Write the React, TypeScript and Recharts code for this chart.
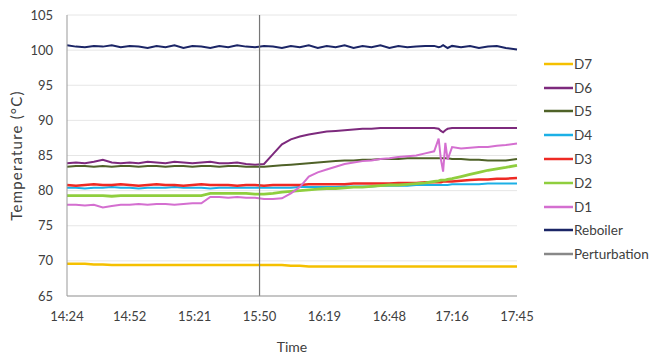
import React from 'react';
import {
  LineChart,
  Line,
  XAxis,
  YAxis,
  CartesianGrid
} from 'recharts';

// minutes after 14:24 (denser around the disturbance near 17:12)
const times = [
  0, 4, 8, 12, 16, 20, 24, 28, 32, 36,
  40, 44, 48, 52, 56, 60, 64, 68, 72, 76,
  80, 84, 88, 92, 96, 100, 104, 108, 112, 116,
  120, 124, 128, 132, 136, 140, 144, 148, 152, 156,
  160, 164, 166, 167, 168, 169, 170, 172, 176, 180, 184, 188, 192, 196, 201
];

const d7 = [
  69.6, 69.6, 69.6, 69.5, 69.5, 69.4, 69.4, 69.4, 69.4, 69.4,
  69.4, 69.4, 69.4, 69.4, 69.4, 69.4, 69.4, 69.4, 69.4, 69.4,
  69.4, 69.4, 69.4, 69.4, 69.4, 69.3, 69.3, 69.2, 69.2, 69.2,
  69.2, 69.2, 69.2, 69.2, 69.2, 69.2, 69.2, 69.2, 69.2, 69.2,
  69.2, 69.2, 69.2, 69.2, 69.2, 69.2, 69.2, 69.2, 69.2, 69.2, 69.2, 69.2, 69.2, 69.2, 69.2
];

const d6 = [
  83.9, 84.0, 83.9, 84.1, 84.4, 84.0, 83.9, 84.0, 83.9, 84.1,
  84.0, 83.9, 84.1, 84.0, 83.9, 84.0, 84.1, 83.9, 83.9, 84.0,
  83.8, 83.7, 83.8, 85.2, 86.6, 87.3, 87.7, 88.0, 88.2, 88.4,
  88.5, 88.6, 88.7, 88.8, 88.8, 88.9, 88.9, 88.9, 88.9, 88.9,
  88.9, 88.9, 88.8, 88.5, 88.3, 88.6, 88.8, 88.9, 88.9, 88.9, 88.9, 88.9, 88.9, 88.9, 88.9
];

const d5 = [
  83.4, 83.5, 83.5, 83.4, 83.5, 83.4, 83.5, 83.5, 83.4, 83.5,
  83.5, 83.4, 83.5, 83.5, 83.4, 83.5, 83.5, 83.4, 83.5, 83.5,
  83.4, 83.4, 83.4, 83.5, 83.6, 83.7, 83.8, 83.9, 84.0, 84.1,
  84.2, 84.3, 84.3, 84.4, 84.4, 84.5, 84.5, 84.5, 84.6, 84.6,
  84.6, 84.6, 84.6, 84.6, 84.6, 84.6, 84.6, 84.5, 84.5, 84.4, 84.4, 84.3, 84.3, 84.3, 84.5
];

const d4 = [
  80.4, 80.4, 80.3, 80.4, 80.4, 80.5, 80.4, 80.4, 80.3, 80.4,
  80.4, 80.4, 80.5, 80.4, 80.4, 80.4, 80.3, 80.4, 80.4, 80.4,
  80.4, 80.4, 80.4, 80.4, 80.4, 80.4, 80.5, 80.5, 80.5, 80.5,
  80.5, 80.6, 80.6, 80.6, 80.6, 80.7, 80.7, 80.7, 80.7, 80.8,
  80.8, 80.8, 80.8, 80.8, 80.8, 80.8, 80.8, 80.9, 80.9, 80.9, 80.9, 81.0, 81.0, 81.0, 81.0
];

const d3 = [
  80.8, 80.7, 80.8, 80.9, 80.8, 80.8, 80.9, 80.8, 80.7, 80.8,
  80.9, 80.8, 80.8, 80.7, 80.8, 80.9, 80.8, 80.8, 80.8, 80.7,
  80.8, 80.8, 80.7, 80.8, 80.8, 80.8, 80.8, 80.9, 80.9, 80.9,
  80.9, 80.9, 81.0, 81.0, 81.0, 81.0, 81.0, 81.1, 81.1, 81.1,
  81.2, 81.2, 81.2, 81.2, 81.3, 81.3, 81.3, 81.3, 81.4, 81.5, 81.6, 81.6, 81.7, 81.7, 81.8
];

const d2 = [
  79.3, 79.3, 79.3, 79.3, 79.3, 79.2, 79.3, 79.3, 79.3, 79.3,
  79.3, 79.3, 79.3, 79.3, 79.3, 79.3, 79.6, 79.6, 79.6, 79.6,
  79.6, 79.5, 79.5, 79.6, 79.8, 79.9, 80.0, 80.1, 80.2, 80.3,
  80.3, 80.4, 80.5, 80.5, 80.6, 80.7, 80.8, 80.8, 80.9, 81.0,
  81.1, 81.3, 81.4, 81.5, 81.5, 81.5, 81.6, 81.7, 82.0, 82.3, 82.6, 82.9, 83.1, 83.3, 83.6
];

const d1 = [
  78.0, 78.0, 77.9, 78.0, 77.6, 77.8, 78.0, 78.0, 78.1, 78.0,
  78.1, 78.1, 78.0, 78.1, 78.2, 78.2, 79.1, 79.1, 79.0, 79.1,
  79.0, 79.0, 78.8, 78.8, 78.9, 79.6, 80.5, 82.0, 82.6, 83.0,
  83.4, 83.8, 84.0, 84.2, 84.3, 84.5, 84.6, 84.8, 84.9, 85.0,
  85.3, 85.6, 87.4, 84.5, 82.7, 86.8, 84.4, 86.2, 86.0, 86.1, 86.2, 86.2, 86.4, 86.5, 86.7
];

const reboiler = [
  100.7, 100.5, 100.4, 100.6, 100.5, 100.7, 100.4, 100.6, 100.5, 100.3,
  100.6, 100.4, 100.7, 100.3, 100.6, 100.5, 100.3, 100.6, 100.4, 100.7,
  100.5, 100.4, 100.6, 100.5, 100.3, 100.6, 100.4, 100.7, 100.3, 100.6,
  100.4, 100.7, 100.3, 100.6, 100.4, 100.7, 100.3, 100.6, 100.4, 100.5,
  100.6, 100.6, 100.4, 100.5, 100.7, 100.5, 100.3, 100.6, 100.4, 100.6, 100.3, 100.5, 100.6, 100.3, 100.1
];

// perturbation applied at 15:50 (86 min), drawn as a vertical line
const perturbationTime = 86;
const perturbationSpan = [65, 105];

const tickTimes = [0, 28, 57, 86, 115, 144, 172, 201];
const tickLabels = ['14:24', '14:52', '15:21', '15:50', '16:19', '16:48', '17:16', '17:45'];
const yTicks = [65, 70, 75, 80, 85, 90, 95, 100, 105];

const series = [
  { key: 'D7', color: '#f5c000', width: 2.5 },
  { key: 'D6', color: '#7d2a7d', width: 2 },
  { key: 'D5', color: '#4f6228', width: 2 },
  { key: 'D4', color: '#1cb0e6', width: 2 },
  { key: 'D3', color: '#ee2a24', width: 2.5 },
  { key: 'D2', color: '#8fce3e', width: 2.8 },
  { key: 'D1', color: '#d46fd0', width: 2 },
  { key: 'Reboiler', color: '#1b2566', width: 2 },
  { key: 'Perturbation', color: '#888888', width: 1.2 }
];

const data = times.map((t, i) => ({
  t,
  D7: d7[i],
  D6: d6[i],
  D5: d5[i],
  D4: d4[i],
  D3: d3[i],
  D2: d2[i],
  D1: d1[i],
  Reboiler: reboiler[i]
}));

const perturbationData = perturbationSpan.map(v => ({ t: perturbationTime, Perturbation: v }));

const FONT = 'Lato, "Open Sans", sans-serif';
const TEXT = '#404040';

function LegendList() {
  return (
    <div style={{ position: 'absolute', left: 544, top: 52, fontFamily: FONT, fontSize: 13.5, color: TEXT }}>
      {series.map(s => (
        <div key={s.key} style={{ display: 'flex', alignItems: 'center', height: 23.8, whiteSpace: 'nowrap' }}>
          <svg width={29} height={6} style={{ marginRight: 1 }}>
            <line x1={0} y1={3} x2={29} y2={3} stroke={s.color} strokeWidth={2.5} />
          </svg>
          <span>{s.key}</span>
        </div>
      ))}
    </div>
  );
}

export default function App() {
  return (
    <div style={{ position: 'absolute', left: 0, top: 0, width: 651, height: 358, background: '#fff', overflow: 'hidden' }}>
      <LineChart width={651} height={358} data={data} margin={{ top: 15, right: 134, bottom: 0, left: 9 }}>
        <CartesianGrid vertical={false} stroke="#e6e6e6" />
        <XAxis
          dataKey="t"
          type="number"
          domain={[0, 201]}
          ticks={tickTimes}
          tickFormatter={v => tickLabels[tickTimes.indexOf(v)]}
          tickLine={false}
          tickMargin={10}
          height={62}
          stroke="#999"
          tick={{ fill: TEXT, fontSize: 13, fontFamily: FONT }}
          label={{ value: 'Time', position: 'insideBottom', offset: 6, fill: TEXT, fontSize: 14, fontFamily: FONT }}
        />
        <YAxis
          domain={[65, 105]}
          ticks={yTicks}
          width={58}
          tickLine={false}
          tickMargin={8}
          stroke="#999"
          tick={{ fill: TEXT, fontSize: 13, fontFamily: FONT }}
          label={{
            value: 'Temperature (°C)',
            angle: -90,
            position: 'insideLeft',
            offset: 8,
            fill: TEXT,
            fontSize: 15,
            fontFamily: FONT,
            style: { textAnchor: 'middle', letterSpacing: 1.2 }
          }}
        />
        {series.slice(0, 8).map(s => (
          <Line
            key={s.key}
            type="linear"
            dataKey={s.key}
            stroke={s.color}
            strokeWidth={s.width}
            dot={false}
            isAnimationActive={false}
          />
        ))}
        <Line
          data={perturbationData}
          dataKey="Perturbation"
          stroke="#777"
          strokeWidth={1.2}
          dot={false}
          isAnimationActive={false}
        />
      </LineChart>
      <LegendList />
    </div>
  );
}
